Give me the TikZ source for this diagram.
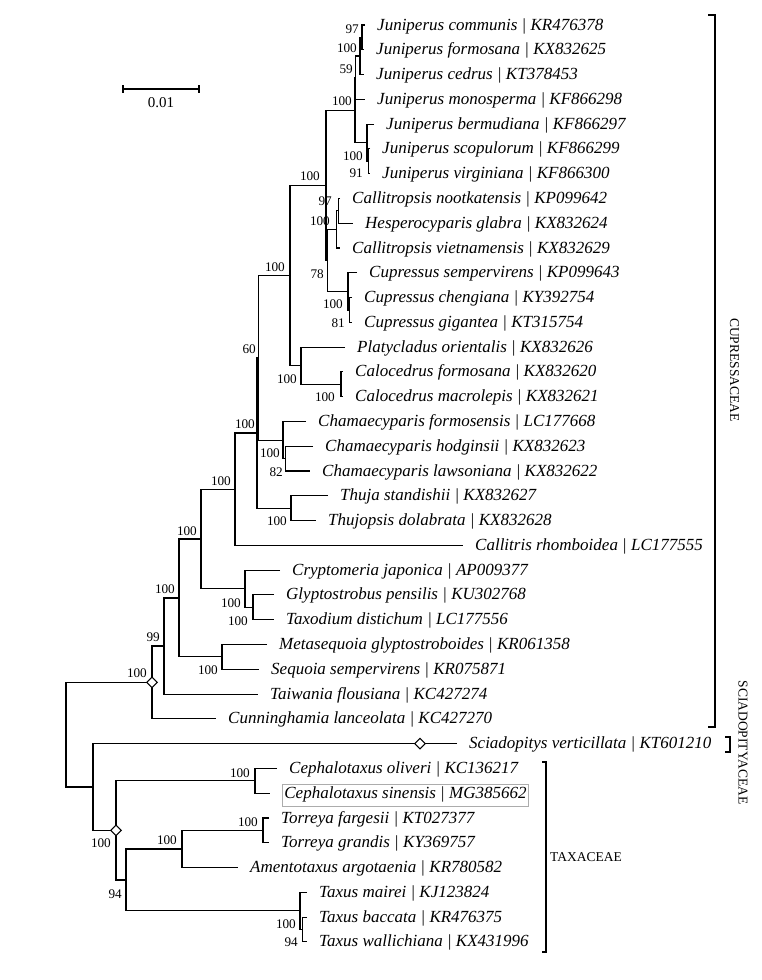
\documentclass[tikz,border=0pt]{standalone}
\usepackage{fontspec}
\setmainfont{Liberation Serif}
\usetikzlibrary{shapes.geometric}
\begin{document}
\begin{tikzpicture}[x=1pt,y=-1pt,
  br/.style={line width=1.1pt,line join=miter},
  leaf/.style={anchor=base west,inner sep=0pt,font=\fontsize{17}{20}\selectfont\itshape},
  bs/.style={anchor=east,inner sep=0pt,font=\fontsize{13.2}{15}\selectfont},
  dmd/.style={diamond,draw,fill=white,line width=1pt,inner sep=0pt,minimum size=11pt},
  grp/.style={inner sep=0pt,font=\fontsize{13.5}{15}\selectfont}]
\useasboundingbox (0,0) rectangle (761,980);
\newcommand\cl[3]{\draw[br] (#2) -| (#1) |- (#3);}
% leaf tips
\coordinate (L1) at (365,25.0);
\coordinate (L2) at (364,49.8);
\coordinate (L3) at (364,74.6);
\coordinate (L4) at (365,99.3);
\coordinate (L5) at (374,124.1);
\coordinate (L6) at (370,148.9);
\coordinate (L7) at (370,173.7);
\coordinate (L8) at (340,198.5);
\coordinate (L9) at (353,223.2);
\coordinate (L10) at (340,248.0);
\coordinate (L11) at (357,272.8);
\coordinate (L12) at (352,297.6);
\coordinate (L13) at (352,322.4);
\coordinate (L14) at (345,347.1);
\coordinate (L15) at (343,371.9);
\coordinate (L16) at (343,396.7);
\coordinate (L17) at (306,421.5);
\coordinate (L18) at (313,446.3);
\coordinate (L19) at (310,471.0);
\coordinate (L20) at (328,495.8);
\coordinate (L21) at (316,520.6);
\coordinate (L22) at (463,545.4);
\coordinate (L23) at (280,570.2);
\coordinate (L24) at (274,594.9);
\coordinate (L25) at (274,619.7);
\coordinate (L26) at (267,644.5);
\coordinate (L27) at (259,669.3);
\coordinate (L28) at (258,694.1);
\coordinate (L29) at (216,718.8);
\coordinate (L30) at (457,743.6);
\coordinate (L31) at (277,768.4);
\coordinate (L32) at (270,793.2);
\coordinate (L33) at (269,818.0);
\coordinate (L34) at (269,842.8);
\coordinate (L35) at (238,867.5);
\coordinate (L36) at (307,892.3);
\coordinate (L37) at (307,917.1);
\coordinate (L38) at (307,941.9);
% internal nodes
\coordinate (A1) at (362,37.4);
\coordinate (A2) at (360,56.0);
\coordinate (A2b) at (355.5,77.7);
\coordinate (A3) at (368.5,161.3);
\coordinate (A4) at (367,142.7);
\coordinate (J) at (355,110.2);
\coordinate (I97) at (338.5,210.9);
\coordinate (CalG) at (336.5,229.4);
\coordinate (CG) at (349.5,310.0);
\coordinate (Cup) at (348,291.4);
\coordinate (C2) at (327.5,260.4);
\coordinate (C1) at (326,185.3);
\coordinate (Calo) at (341,384.3);
\coordinate (PC) at (301,365.7);
\coordinate (N100d) at (290,275.5);
\coordinate (CH) at (285.5,458.7);
\coordinate (Cham) at (283,440.1);
\coordinate (Y) at (258.5,357.8);
\coordinate (Thu) at (291,508.2);
\coordinate (N60) at (257,433.0);
\coordinate (N100c) at (235,489.2);
\coordinate (GT) at (253,607.3);
\coordinate (Tax) at (245,588.8);
\coordinate (N100b) at (201,539.0);
\coordinate (MS) at (222,656.9);
\coordinate (N100a) at (179,598.0);
\coordinate (N99) at (164,646.0);
\coordinate (D1) at (152,682.4);
\coordinate (Ceph) at (255,780.8);
\coordinate (Tor) at (263,830.4);
\coordinate (TA) at (182,849.0);
\coordinate (Tbw) at (302.5,929.5);
\coordinate (Tx) at (300,910.9);
\coordinate (TT) at (126,880.0);
\coordinate (D2) at (116,830.4);
\coordinate (B) at (93,787.0);
\coordinate (R) at (66,734.7);
\coordinate (Ds) at (420,743.6);
% branches
\cl{A1}{L1}{L2}
\cl{A2}{A1}{L3}
\cl{A2b}{A2}{L4}
\cl{A3}{L6}{L7}
\cl{A4}{L5}{A3}
\cl{J}{A2b}{A4}
\cl{I97}{L8}{L9}
\cl{CalG}{I97}{L10}
\cl{CG}{L12}{L13}
\cl{Cup}{L11}{CG}
\cl{C2}{CalG}{Cup}
\cl{C1}{J}{C2}
\cl{Calo}{L15}{L16}
\cl{PC}{L14}{Calo}
\cl{N100d}{C1}{PC}
\cl{CH}{L18}{L19}
\cl{Cham}{L17}{CH}
\cl{Y}{N100d}{Cham}
\cl{Thu}{L20}{L21}
\cl{N60}{Y}{Thu}
\cl{N100c}{N60}{L22}
\cl{GT}{L24}{L25}
\cl{Tax}{L23}{GT}
\cl{N100b}{N100c}{Tax}
\cl{MS}{L26}{L27}
\cl{N100a}{N100b}{MS}
\cl{N99}{N100a}{L28}
\cl{D1}{N99}{L29}
\cl{Ceph}{L31}{L32}
\cl{Tor}{L33}{L34}
\cl{TA}{Tor}{L35}
\cl{Tbw}{L37}{L38}
\cl{Tx}{L36}{Tbw}
\cl{TT}{TA}{Tx}
\cl{D2}{Ceph}{TT}
\cl{B}{L30}{D2}
\cl{R}{D1}{B}
% diamonds
\node[dmd] (d1) at (D1) {};
\node[dmd] (d2) at (D2) {};
\node[dmd] (d3) at (Ds) {};
% leaf labels
\foreach \i/\t in {
1/{Juniperus communis | KR476378},
2/{Juniperus formosana | KX832625},
3/{Juniperus cedrus | KT378453},
4/{Juniperus monosperma | KF866298},
5/{Juniperus bermudiana | KF866297},
6/{Juniperus scopulorum | KF866299},
7/{Juniperus virginiana | KF866300},
8/{Callitropsis nootkatensis | KP099642},
9/{Hesperocyparis glabra | KX832624},
10/{Callitropsis vietnamensis | KX832629},
11/{Cupressus sempervirens | KP099643},
12/{Cupressus chengiana | KY392754},
13/{Cupressus gigantea | KT315754},
14/{Platycladus orientalis | KX832626},
15/{Calocedrus formosana | KX832620},
16/{Calocedrus macrolepis | KX832621},
17/{Chamaecyparis formosensis | LC177668},
18/{Chamaecyparis hodginsii | KX832623},
19/{Chamaecyparis lawsoniana | KX832622},
20/{Thuja standishii | KX832627},
21/{Thujopsis dolabrata | KX832628},
22/{Callitris rhomboidea | LC177555},
23/{Cryptomeria japonica | AP009377},
24/{Glyptostrobus pensilis | KU302768},
25/{Taxodium distichum | LC177556},
26/{Metasequoia glyptostroboides | KR061358},
27/{Sequoia sempervirens | KR075871},
28/{Taiwania flousiana | KC427274},
29/{Cunninghamia lanceolata | KC427270},
30/{Sciadopitys verticillata | KT601210},
31/{Cephalotaxus oliveri | KC136217},
33/{Torreya fargesii | KT027377},
34/{Torreya grandis | KY369757},
35/{Amentotaxus argotaenia | KR780582},
36/{Taxus mairei | KJ123824},
37/{Taxus baccata | KR476375},
38/{Taxus wallichiana | KX431996}}
  \node[leaf] (t\i) at ([xshift=12pt,yshift=-5pt]L\i) {\t};
\node[leaf,draw=gray!65,line width=0.8pt,inner xsep=2pt,inner ysep=2.2pt,text height=12pt,text depth=5.5pt]
  (t32) at ([xshift=12pt,yshift=-5pt]L32) {Cephalotaxus sinensis | MG385662};
% bootstrap values
\foreach \bx/\by/\bt [count=\k] in {359/29/97,357/48/100,353/69/59,352/101/100,363/156/100,363/173/91,
  320/176/100,332/201/97,330/221/100,324/274/78,343/304/100,345/323/81,285/267/100,256/349/60,
  297/379/100,335/397/100,255/424/100,280/453/100,283/472/82,231/481/100,287/521/100,197/531/100,
  175/589/100,241/603/100,248/621/100,160/637/99,147/673/100,218/670/100,250/773/100,258/822/100,
  177/840/100,111/843/100,122/894/94,296/924/100,298/942/94}
  \node[bs] (b\k) at (\bx,\by) {\bt};
% scale bar
\coordinate (s0) at (123,89);
\coordinate (s1) at (199,89);
\draw[br] (s0) -- (s1);
\draw[br] ([yshift=4pt]s0) -- ([yshift=-4pt]s0);
\draw[br] ([yshift=4pt]s1) -- ([yshift=-4pt]s1);
\node[inner sep=0pt,font=\fontsize{15}{17}\selectfont] (sc) at (161,103) {0.01};
% group brackets
\coordinate (cu1) at (708,15);
\coordinate (cu2) at (708,727);
\draw[br] (cu1) -- ++(7,0) |- (cu2);
\node[grp,rotate=-90] (gcu) at (734.5,370) {CUPRESSACEAE};
\coordinate (sc1) at (725,737);
\coordinate (sc2) at (725,752);
\draw[br] (sc1) -- ++(5,0) |- (sc2);
\node[grp,rotate=-90] (gsc) at (743,742.5) {SCIADOPITYACEAE};
\coordinate (tx1) at (542,762);
\coordinate (tx2) at (542,952);
\draw[br] (tx1) -- ++(4,0) |- (tx2);
\node[grp,anchor=west] (gtx) at (550,857) {TAXACEAE};
\end{tikzpicture}
\end{document}
